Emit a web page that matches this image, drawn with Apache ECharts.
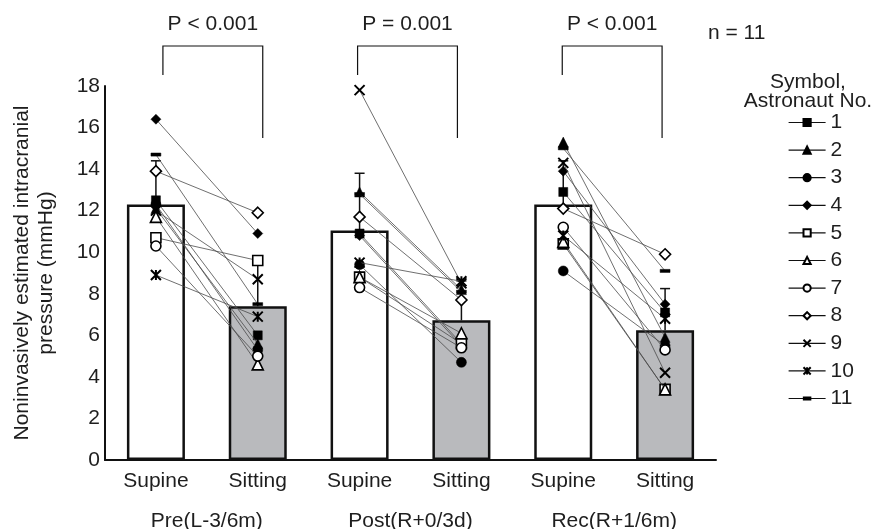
<!DOCTYPE html>
<html><head><meta charset="utf-8">
<script src="https://cdn.jsdelivr.net/npm/echarts@6/dist/echarts.min.js"></script>
<style>html,body{margin:0;padding:0;background:#fff}#c{width:885px;height:529px}</style>
</head><body><div id="c"></div>
<script>
// ---------- data ----------
const categories = ['Supine', 'Sitting', 'Supine', 'Sitting', 'Supine', 'Sitting'];
const groups = ['Pre(L-3/6m)', 'Post(R+0/3d)', 'Rec(R+1/6m)'];
const pLabels = ['P < 0.001', 'P = 0.001', 'P < 0.001'];
const barMeans = [12.3, 7.4, 11.05, 6.72, 12.3, 6.25];
const barSD = [2.1, 2.2, 2.75, 1.9, 2.1, 2.0];
const astronauts = ['1', '2', '3', '4', '5', '6', '7', '8', '9', '10', '11'];
// per astronaut: [Pre supine, Pre sitting, Post supine, Post sitting, Rec supine, Rec sitting]
const a1 = [12.5, 6.0, 10.9, 5.6, 12.9, 7.1];
const a2 = [12.1, 5.6, 12.9, 8.2, 15.3, 5.9];
const a3 = [12.3, 5.3, 9.4, 4.7, 9.1, 5.5];
const a4 = [16.4, 10.9, 10.8, 5.5, 13.9, 7.5];
const a5 = [10.7, 9.6, 8.8, 5.6, 10.4, 3.4];
const a6 = [11.7, 4.6, 8.8, 6.1, 10.5, 3.4];
const a7 = [10.3, 5.0, 8.3, 5.4, 11.2, 5.3];
const a8 = [13.9, 11.9, 11.7, 7.7, 12.1, 9.9];
const a9 = [12.0, 8.7, 17.8, 8.5, 14.3, 4.2];
const a10 = [8.9, 6.9, 9.5, 8.6, 10.8, 6.8];
const a11 = [14.7, 7.5, 12.8, 8.1, 15.0, 9.1];
const astroValues = [a1, a2, a3, a4, a5, a6, a7, a8, a9, a10, a11];
const yMin = 0, yMax = 18, yInterval = 2;

// ---------- styles ----------
const FONT = 'Liberation Sans, Arial, Helvetica, sans-serif';
const TXT = '#1e1e1e';
const FS = 21;
const symDefs = [
  { symbol: 'rect', size: 9, fill: '#000', bw: 0.5 },
  { symbol: 'triangle', size: 10, fill: '#000', bw: 0.5 },
  { symbol: 'circle', size: 10, fill: '#000', bw: 0.5 },
  { symbol: 'diamond', size: 10, fill: '#000', bw: 0.5 },
  { symbol: 'rect', size: 10, fill: '#fff', bw: 1.6 },
  { symbol: 'triangle', size: 11, fill: '#fff', bw: 1.6 },
  { symbol: 'circle', size: 10, fill: '#fff', bw: 1.6 },
  { symbol: 'diamond', size: 11, fill: '#fff', bw: 1.6 },
  { symbol: 'path://M0,0L10,10M10,0L0,10', size: 10, fill: '#000', bw: 2 },
  { symbol: 'path://M0,0L10,10M10,0L0,10M5,0L5,10', size: 10, fill: '#000', bw: 2 },
  { symbol: 'path://M0,0M0.5,3.6L9.5,3.6L9.5,6.4L0.5,6.4ZM10,10', size: 11, fill: '#000', bw: 0.5 }
];
const bracketShift = [[7, 5], [-2, -4], [-1, -3]];

const chart = echarts.init(document.getElementById('c'), null, { renderer: 'canvas' });

const series = [];
series.push({
  type: 'bar', xAxisIndex: 0, yAxisIndex: 0, barWidth: 58, z: 1,
  data: barMeans.map((v, i) => ({
    value: v,
    itemStyle: { color: i % 2 === 0 ? '#ffffff' : '#b9babd', borderColor: '#111', borderWidth: 2.5 }
  })),
  silent: true, animation: false
});
series.push({
  type: 'custom', xAxisIndex: 0, yAxisIndex: 0, z: 2, silent: true, animation: false,
  data: barMeans.map((m, i) => [i, m, m + barSD[i]]),
  renderItem: function (params, api) {
    const p1 = api.coord([api.value(0), api.value(1)]);
    const p2 = api.coord([api.value(0), api.value(2)]);
    return {
      type: 'group', children: [
        { type: 'line', shape: { x1: p1[0], y1: p1[1], x2: p2[0], y2: p2[1] }, style: { stroke: '#111', lineWidth: 1.5 } },
        { type: 'line', shape: { x1: p2[0] - 5, y1: p2[1], x2: p2[0] + 5, y2: p2[1] }, style: { stroke: '#111', lineWidth: 1.5 } }
      ]
    };
  }
});
astronauts.forEach((name, k) => {
  const d = symDefs[k];
  for (let g = 0; g < 3; g++) {
    series.push({
      type: 'line', name: name, xAxisIndex: 0, yAxisIndex: 0, z: 5 + k,
      data: [[2 * g, astroValues[k][2 * g]], [2 * g + 1, astroValues[k][2 * g + 1]]],
      symbol: d.symbol, symbolSize: d.size, showAllSymbol: true,
      lineStyle: { color: '#4a4a4a', width: 0.8 },
      itemStyle: { color: d.fill, borderColor: '#000', borderWidth: d.bw },
      emphasis: { disabled: true }, silent: true, animation: false
    });
  }
});
series.push({
  type: 'custom', xAxisIndex: 0, yAxisIndex: 0, z: 20, silent: true, animation: false,
  data: [[0, yMax], [2, yMax], [4, yMax]],
  renderItem: function (params, api) {
    const g = params.dataIndex;
    const pl = api.coord([api.value(0), api.value(1)]);
    const pr = api.coord([api.value(0) + 1, api.value(1)]);
    const y18 = pl[1];
    const xl = pl[0] + bracketShift[g][0], xr = pr[0] + bracketShift[g][1];
    const top = y18 - 40;
    return {
      type: 'group', children: [
        { type: 'polyline', shape: { points: [[xl, y18 - 11], [xl, top], [xr, top], [xr, y18 + 52]] },
          style: { stroke: '#111', lineWidth: 1.2, fill: null } },
        { type: 'text', x: (xl + xr) / 2, y: y18 - 62,
          style: { text: pLabels[g], fill: TXT, font: FS + 'px ' + FONT, align: 'center', verticalAlign: 'middle' } }
      ]
    };
  }
});

chart.setOption({
  animation: false,
  backgroundColor: '#fff',
  grid: [
    { left: 105, right: 169, top: 86, bottom: 69 },
    { left: 105, right: 169, top: 459, height: 1 }
  ],
  xAxis: [
    { type: 'category', gridIndex: 0, data: categories,
      axisLine: { show: true, lineStyle: { color: '#111', width: 2 } },
      axisTick: { show: false },
      axisLabel: { color: TXT, fontSize: FS, fontFamily: FONT, margin: 11, interval: 0 } },
    { type: 'category', gridIndex: 1, data: groups, position: 'bottom',
      axisLine: { show: false }, axisTick: { show: false },
      axisLabel: { color: TXT, fontSize: FS, fontFamily: FONT, margin: 51, interval: 0 } }
  ],
  yAxis: [
    { type: 'value', gridIndex: 0, min: yMin, max: yMax, interval: yInterval,
      name: 'Noninvasively estimated intracranial\npressure (mmHg)',
      nameLocation: 'middle', nameGap: 47,
      nameTextStyle: { color: TXT, fontSize: FS, fontFamily: FONT, lineHeight: 24 },
      axisLine: { show: true, lineStyle: { color: '#111', width: 2 } },
      axisTick: { show: false }, splitLine: { show: false },
      axisLabel: { color: TXT, fontSize: FS, fontFamily: FONT, margin: 5 } },
    { type: 'value', gridIndex: 1, show: false }
  ],
  legend: {
    orient: 'vertical', left: 783, top: 107,
    data: astronauts, selectedMode: false,
    itemWidth: 37, itemHeight: 9, itemGap: 6.6,
    lineStyle: { color: '#111', width: 1.2 },
    textStyle: { color: TXT, fontSize: FS, fontFamily: FONT }
  },
  graphic: [
    { type: 'text', left: 708, top: 23, style: { text: 'n = 11', fill: TXT, font: FS + 'px ' + FONT } },
    { type: 'text', x: 808, y: 82, style: { text: 'Symbol,', fill: TXT, font: FS + 'px ' + FONT, align: 'center', verticalAlign: 'middle' } },
    { type: 'text', x: 808, y: 101, style: { text: 'Astronaut No.', fill: TXT, font: FS + 'px ' + FONT, align: 'center', verticalAlign: 'middle' } }
  ],
  series: series
});
</script>
</body></html>
